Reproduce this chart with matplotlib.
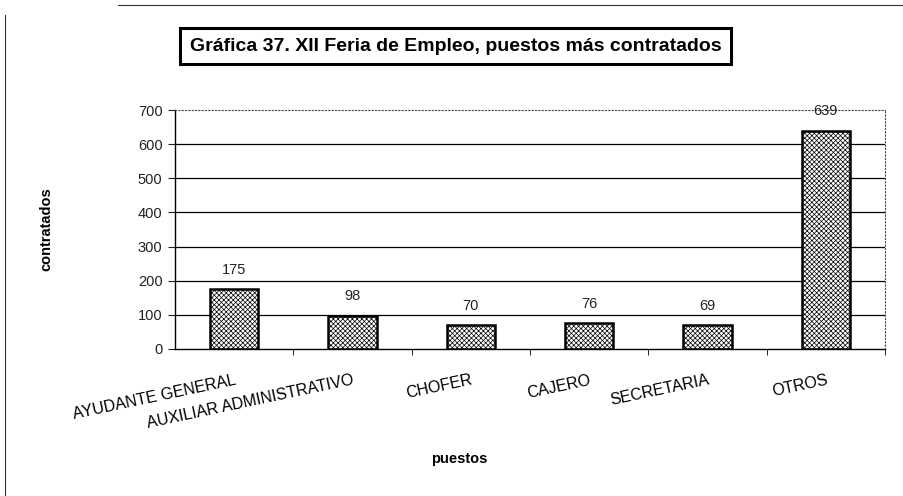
import matplotlib

matplotlib.use("Agg")
import matplotlib.pyplot as plt
import numpy as np
from matplotlib.lines import Line2D

plt.rcParams["font.family"] = ["Liberation Sans", "DejaVu Sans"]
plt.rcParams["hatch.linewidth"] = 0.5

puestos = [
    "AYUDANTE GENERAL",
    "AUXILIAR ADMINISTRATIVO",
    "CHOFER",
    "CAJERO",
    "SECRETARIA",
    "OTROS",
]
contratados = [175, 98, 70, 76, 69, 639]
y_ticks = [0, 100, 200, 300, 400, 500, 600, 700]

fig = plt.figure(figsize=(9.04, 4.96), dpi=100)
ax = fig.add_axes([0.1936, 0.2964, 0.7854, 0.4816])

x = np.arange(len(puestos))
for y in y_ticks[1:-1]:
    ax.axhline(y, color="black", linewidth=0.9, zorder=1)

bars = ax.bar(
    x,
    contratados,
    width=0.41,
    color="white",
    edgecolor="black",
    linewidth=1.8,
    hatch="xxxxxxx",
    zorder=3,
)
for rect, value in zip(bars, contratados):
    ax.annotate(
        str(value),
        (rect.get_x() + rect.get_width() / 2, rect.get_height()),
        xytext=(0, 9),
        textcoords="offset points",
        ha="center",
        va="bottom",
        fontsize=10.5,
        color="#222222",
    )

ax.set_xlim(-0.5, len(puestos) - 0.5)
ax.set_ylim(0, 700)
ax.set_yticks(y_ticks)
ax.tick_params(axis="y", labelsize=10.5, length=5, direction="out", colors="#222222", pad=4)

ax.set_xticks(x)
ax.set_xticklabels(puestos, rotation=12, ha="right", rotation_mode="anchor", fontsize=11.5)
ax.tick_params(axis="x", which="major", length=0, pad=17)
ax.set_xticks(np.arange(len(puestos)) + 0.5, minor=True)
ax.tick_params(axis="x", which="minor", length=4, direction="out")

for side in ["top", "right"]:
    ax.spines[side].set_linestyle((0, (1, 2)))
    ax.spines[side].set_linewidth(0.8)
    ax.spines[side].set_color("#444444")
ax.spines["left"].set_linewidth(1.0)
ax.spines["bottom"].set_linewidth(1.0)

ax.set_ylabel("contratados", fontsize=10.5, fontweight="bold")
ax.yaxis.set_label_coords(-0.172, 0.5)
ax.set_xlabel("puestos", fontsize=10.5, fontweight="bold")
ax.xaxis.set_label_coords(0.40, -0.43)

fig.text(
    0.504,
    0.907,
    "Gráfica 37. XII Feria de Empleo, puestos más contratados",
    ha="center",
    va="center",
    fontsize=14,
    fontweight="bold",
    bbox=dict(boxstyle="square,pad=0.5", facecolor="white", edgecolor="black", linewidth=2.2),
)

# scan border lines
fig.add_artist(Line2D([0.006, 0.006], [0.0, 0.97], color="#333333", linewidth=0.8))
fig.add_artist(Line2D([0.13, 1.0], [0.99, 0.99], color="#333333", linewidth=0.8))

fig.savefig("out.png", dpi=100)
